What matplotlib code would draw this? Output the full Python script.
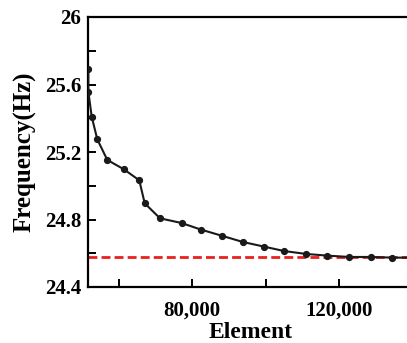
import matplotlib
matplotlib.use("Agg")
import matplotlib.pyplot as plt
from matplotlib.ticker import MultipleLocator, FixedLocator

elements = [51800, 51800, 52700, 54230, 56950, 61500, 65660, 67130, 71300, 77200,
            82450, 88080, 93800, 99670, 105100, 111000, 116800, 122800, 128600, 134500, 140400]
frequency = [25.69, 25.557, 25.41, 25.275, 25.153, 25.097, 25.032, 24.896, 24.807, 24.779,
             24.74, 24.704, 24.667, 24.639, 24.613, 24.596, 24.586, 24.578, 24.578, 24.574, 24.574]
reference_freq = 24.58
y_ticks = [24.4, 24.8, 25.2, 25.6, 26.0]
y_tick_labels = ["24.4", "24.8", "25.2", "25.6", "26"]
x_tick_labels = {80000: "80,000", 120000: "120,000"}

plt.rcParams['font.family'] = ['Liberation Serif', 'DejaVu Serif']
plt.rcParams['font.weight'] = 'bold'

fig = plt.figure(figsize=(4.07, 3.43), dpi=100)
left, right = 88 / 407, 412.5 / 407
bottom, top = 1 - 287 / 343, 1 - 17 / 343
ax = fig.add_axes([left, bottom, right - left, top - bottom])

ax.axhline(reference_freq, color='#e8201e', lw=2.0, dashes=(3.2, 1.5), zorder=2)
ax.plot(elements, frequency, color='#1a1a1a', lw=1.5, marker='o', ms=4.2, zorder=3, clip_on=True)

ax.set_xlim(51700, 140000)
ax.set_ylim(24.4, 26.0)

ax.yaxis.set_major_locator(FixedLocator(y_ticks))
ax.set_yticklabels(y_tick_labels)
ax.yaxis.set_minor_locator(MultipleLocator(0.2))
ax.xaxis.set_major_locator(FixedLocator(list(x_tick_labels.keys())))
ax.set_xticklabels(list(x_tick_labels.values()))
ax.xaxis.set_minor_locator(FixedLocator([60000, 100000, 140000]))

ax.tick_params(which='both', direction='in', length=6, width=1.4, labelsize=15)
ax.tick_params(axis='y', which='both', right=False, pad=5)
ax.tick_params(axis='x', which='both', top=False, pad=10)
for s in ax.spines.values():
    s.set_linewidth(1.6)

ax.set_xlabel('Element', fontsize=17, fontweight='bold', labelpad=1)
ax.set_ylabel('Frequency(Hz)', fontsize=18, fontweight='bold', labelpad=6)

fig.savefig('out.png', dpi=100)
